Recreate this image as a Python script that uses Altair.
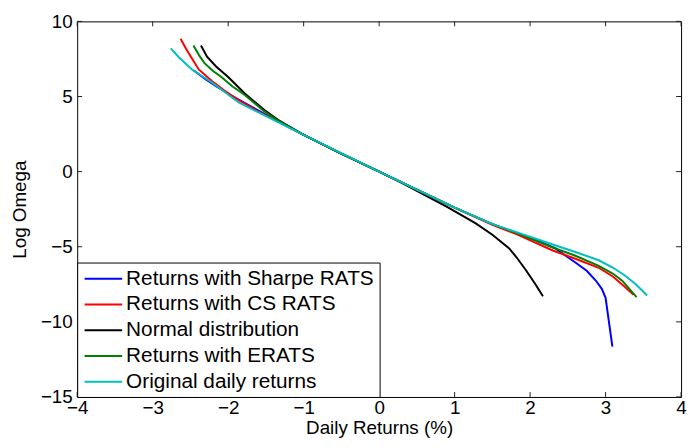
import altair as alt
import pandas as pd

series_names = ["Returns with Sharpe RATS", "Returns with CS RATS", "Normal distribution",
                "Returns with ERATS", "Original daily returns"]
series_colors = ["#0000FF", "#FF0000", "#000000", "#008000", "#00BFBF"]

sharpe_x = [-2.46, -2.30, -2.15, -1.95, -1.70, -1.34, -1.0, -0.5, 0.0, 0.5, 1.0, 1.5, 1.82, 2.1, 2.33, 2.6, 2.75, 2.87, 2.95, 3.0, 3.09]
sharpe_y = [6.75, 6.15, 5.65, 5.05, 4.35, 3.35, 2.45, 1.2, 0.0, -1.2, -2.4, -3.5, -4.1, -4.6, -5.1, -6.05, -6.6, -7.25, -7.8, -8.4, -11.65]

cs_x = [-2.63, -2.56, -2.5, -2.39, -2.22, -2.05, -1.86, -1.6, -1.34, -1.0, -0.5, 0.0, 0.5, 1.0, 1.5, 1.82, 2.3, 2.6, 2.91, 3.1, 3.26, 3.37]
cs_y = [8.85, 8.2, 7.7, 6.8, 6.05, 5.4, 4.75, 4.0, 3.35, 2.45, 1.2, 0.0, -1.2, -2.4, -3.55, -4.16, -5.25, -5.8, -6.4, -7.0, -7.7, -8.2]

normal_x = [-2.36, -2.28, -2.16, -2.0, -1.78, -1.52, -1.34, -1.0, -0.5, 0.0, 0.3, 0.6, 0.9, 1.28, 1.5, 1.72, 1.82, 1.95, 2.07, 2.17]
normal_y = [8.4, 7.65, 7.0, 6.3, 5.2, 4.1, 3.45, 2.45, 1.2, 0.0, -0.75, -1.55, -2.35, -3.45, -4.2, -5.1, -5.7, -6.6, -7.5, -8.3]

erats_x = [-2.46, -2.38, -2.31, -2.2, -2.09, -1.95, -1.78, -1.52, -1.34, -1.0, -0.5, 0.0, 0.5, 1.0, 1.5, 1.82, 2.3, 2.6, 2.91, 3.1, 3.22, 3.41]
erats_y = [8.4, 7.7, 7.2, 6.7, 6.3, 5.7, 5.1, 4.0, 3.4, 2.45, 1.2, 0.0, -1.2, -2.4, -3.5, -4.08, -5.05, -5.6, -6.28, -6.8, -7.26, -8.35]

orig_x = [-2.76, -2.65, -2.48, -2.22, -1.86, -1.34, -1.0, -0.68, 0.0, 0.5, 1.0, 1.5, 1.82, 2.33, 2.6, 2.91, 3.1, 3.26, 3.4, 3.55]
orig_y = [8.2, 7.6, 6.8, 5.95, 4.6, 3.3, 2.45, 1.66, 0.0, -1.2, -2.4, -3.5, -4.03, -4.9, -5.35, -5.9, -6.4, -6.93, -7.5, -8.25]

x_ticks = [-4, -3, -2, -1, 0, 1, 2, 3, 4]
y_ticks = [-15, -10, -5, 0, 5, 10]

FONT = "Liberation Sans"
W, H = 611, 380
TICK = 5

rows = []
for name, xs_, ys_ in zip(series_names,
                          [sharpe_x, cs_x, normal_x, erats_x, orig_x],
                          [sharpe_y, cs_y, normal_y, erats_y, orig_y]):
    for i, (a, b) in enumerate(zip(xs_, ys_)):
        rows.append({"x": a, "y": b, "series": name, "idx": i})
df = pd.DataFrame(rows)

xenc = alt.X("x:Q", scale=alt.Scale(domain=[-4, 4], nice=False, zero=False),
             axis=alt.Axis(values=x_ticks, title="Daily Returns (%)", labelFlush=False,
                           labelOverlap=False, titleY=36.5, titleBaseline="alphabetic",
                           titleX=W / 2, titleAlign="center", labelPadding=2))
yenc = alt.Y("y:Q", scale=alt.Scale(domain=[-15, 10], nice=False, zero=False),
             axis=alt.Axis(values=y_ticks, title="Log Omega", labelFlush=False,
                           labelOverlap=False, titleX=-58, titleY=H / 2, titleAngle=270,
                           titleAlign="center", titleBaseline="middle", labelPadding=5))

lines = alt.Chart(df).mark_line(strokeWidth=2).encode(
    x=xenc, y=yenc,
    color=alt.Color("series:N",
                    scale=alt.Scale(domain=series_names, range=series_colors),
                    legend=alt.Legend(orient="bottom-left", offset=0, title=None,
                                      strokeColor="black", fillColor="white",
                                      padding=5.5, rowPadding=5, labelFontSize=21,
                                      labelFont=FONT, labelColor="black", labelLimit=500,
                                      symbolType="M-2.9,0H0.9", symbolSize=400,
                                      symbolStrokeWidth=2, symbolOffset=20, labelOffset=2,
                                      cornerRadius=0)),
    order="idx:Q",
)

xt = pd.DataFrame({"x": x_ticks})
yt = pd.DataFrame({"y": y_ticks})
tick_color = "#222222"
xb = alt.Chart(xt).mark_rule(color=tick_color).encode(x=xenc, y=alt.value(H), y2=alt.value(H - TICK))
xtop = alt.Chart(xt).mark_rule(color=tick_color).encode(x=xenc, y=alt.value(0), y2=alt.value(TICK))
yl = alt.Chart(yt).mark_rule(color=tick_color).encode(y=yenc, x=alt.value(0), x2=alt.value(TICK))
yr = alt.Chart(yt).mark_rule(color=tick_color).encode(y=yenc, x=alt.value(W), x2=alt.value(W - TICK))

chart = alt.layer(xb, xtop, yl, yr, lines).properties(
    width=W, height=H,
    autosize=alt.AutoSizeParams(type="none"),
    padding={"left": 70, "top": 11, "right": 6, "bottom": 41},
).configure_axis(
    labelFont=FONT, labelFontSize=19, labelColor="black",
    titleFont=FONT, titleFontSize=19, titleFontWeight="normal", titleColor="black",
    domain=False, ticks=False, grid=False,
).configure_view(stroke="black", strokeWidth=1)

chart.save("out.html", embed_options={"renderer": "svg", "actions": False})
